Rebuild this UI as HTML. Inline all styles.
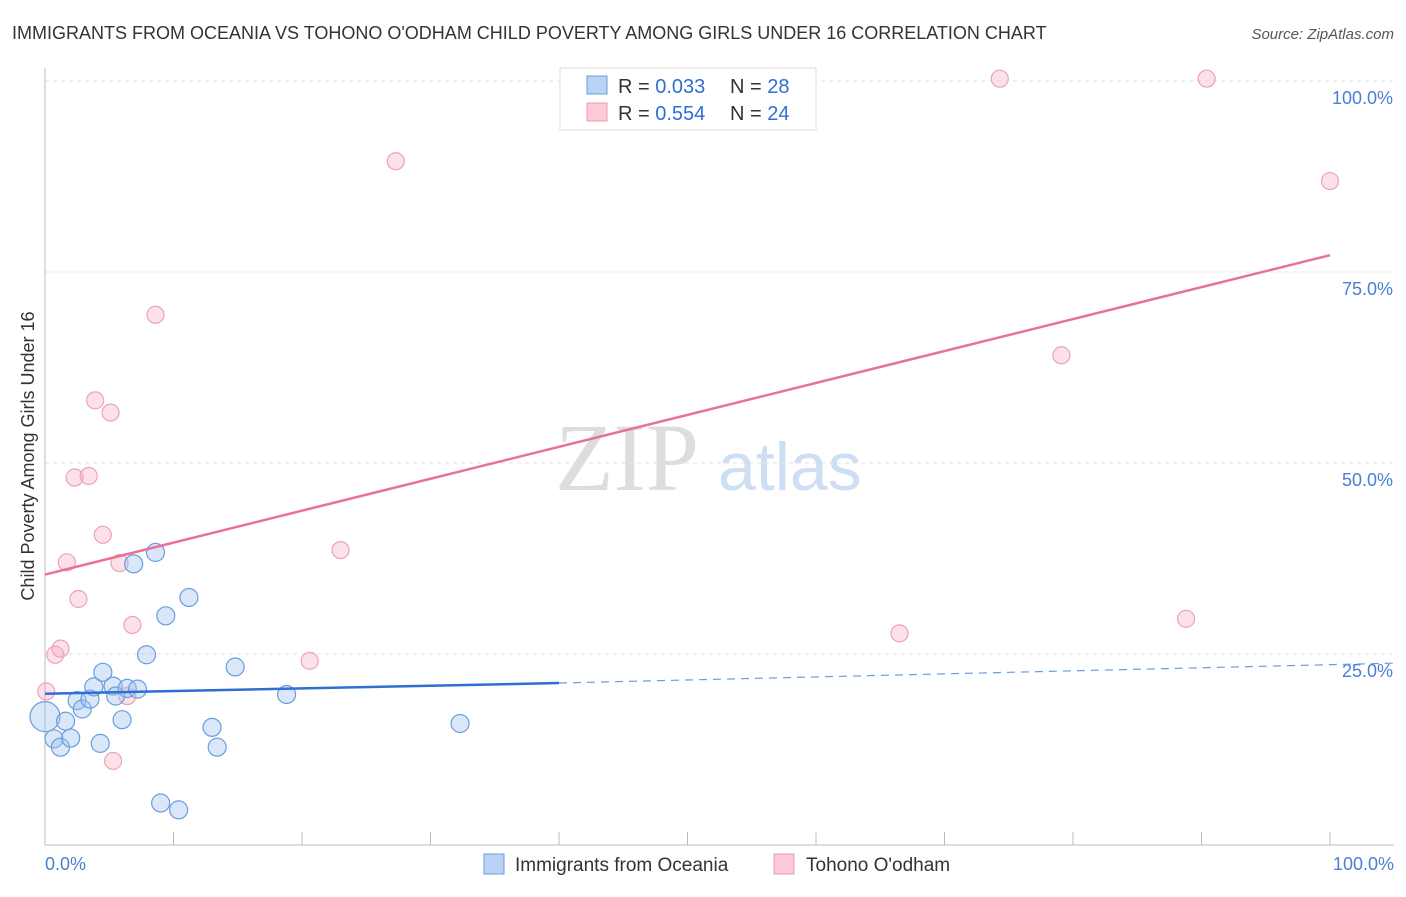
<!DOCTYPE html>
<html><head><meta charset="utf-8"><style>
body{margin:0;background:#fff;font-family:"Liberation Sans",sans-serif;}
</style></head><body>
<svg id="c" width="1406" height="892" xmlns="http://www.w3.org/2000/svg">
<text x="12" y="39" font-size="18" fill="#333">IMMIGRANTS FROM OCEANIA VS TOHONO O'ODHAM CHILD POVERTY AMONG GIRLS UNDER 16 CORRELATION CHART</text>
<text x="1394" y="39" font-size="15" fill="#555" font-style="italic" text-anchor="end">Source: ZipAtlas.com</text>
<text x="34" y="456" font-size="18" fill="#333" text-anchor="middle" transform="rotate(-90 34 456)">Child Poverty Among Girls Under 16</text>
<text x="555" y="490" font-size="96" fill="#ddd" font-family="Liberation Serif,serif">ZIP</text>
<text x="718" y="490" font-size="68" fill="#cfdff3">atlas</text>
<g id="grid"></g><g id="pts"></g><g id="lines"></g>
<g>
<rect x="560" y="68" width="256" height="62" fill="#fff" stroke="#ddd"/>
<rect x="587" y="76" width="20" height="18" fill="#b9d3f5" stroke="#6b9de0"/>
<rect x="587" y="103" width="20" height="18" fill="#fbcbd8" stroke="#ec9ab2"/>
<text x="618" y="93" font-size="20" fill="#333">R = <tspan fill="#2f6fd3">0.033</tspan></text>
<text x="730" y="93" font-size="20" fill="#333">N = <tspan fill="#2f6fd3">28</tspan></text>
<text x="618" y="120" font-size="20" fill="#333">R = <tspan fill="#2f6fd3">0.554</tspan></text>
<text x="730" y="120" font-size="20" fill="#333">N = <tspan fill="#2f6fd3">24</tspan></text>
</g>
<g>
<rect x="484" y="854" width="20" height="20" fill="#b9d3f5" stroke="#6b9de0"/>
<text x="515" y="871" font-size="19" fill="#333">Immigrants from Oceania</text>
<rect x="774" y="854" width="20" height="20" fill="#fbcbd8" stroke="#ec9ab2"/>
<text x="806" y="871" font-size="19" fill="#333">Tohono O'odham</text>
</g>
<text x="45" y="870" font-size="18" fill="#4a7fd4">0.0%</text>
<text x="1394" y="870" font-size="18" fill="#4a7fd4" text-anchor="end">100.0%</text>
</svg>
<script>
const yTicks=[25,50,75,100];
const yTickLabels=["25.0%","50.0%","75.0%","100.0%"];
const blueX=[0,0.7,1.2,1.6,2,2.5,2.9,3.5,3.8,4.3,4.5,5.3,5.5,6,6.4,6.9,7.2,7.9,8.6,9,9.4,10.4,11.2,13,13.4,14.8,18.8,32.3];
const blueY=[16.8,13.9,12.8,16.2,14,18.9,17.8,19.1,20.7,13.3,22.6,20.8,19.5,16.4,20.5,36.8,20.4,24.9,38.3,5.5,30,4.6,32.4,15.4,12.8,23.3,19.7,15.9];
const blueR=[15,9,9,9,9,9,9,9,9,9,9,9,9,9,9,9,9,9,9,9,9,9,9,9,9,9,9,9];
const pinkX=[0.1,0.8,1.2,1.7,2.3,2.6,3.4,3.9,4.5,5.1,5.8,6.4,6.8,5.3,8.6,20.6,23,27.3,66.5,74.3,79.1,88.8,90.4,100];
const pinkY=[20.1,24.9,25.7,37,48.1,32.2,48.3,58.2,40.6,56.6,36.9,19.5,28.8,11,69.4,24.1,38.6,89.5,27.7,100.3,64.1,29.6,100.3,86.9];
const blueLine=[[0,19.8],[40,21.2],[105,23.8]];
const pinkLine=[[0,35.4],[100,77.2]];
const X=v=>45+v*12.85, Y=v=>845-v*7.64;
const NS="http://www.w3.org/2000/svg";
function mk(t,a,p){const e=document.createElementNS(NS,t);for(const k in a)e.setAttribute(k,a[k]);p.appendChild(e);return e;}
const g=document.getElementById('grid');
yTicks.forEach((t,i)=>{
 const l=mk('line',{x1:45,x2:1394,y1:Y(t),y2:Y(t),stroke:'#e2e2e2','stroke-dasharray':'4,4'},g);
 
 
 const tx=mk('text',{x:1393,y:Y(t)+23,'font-size':18,fill:'#4a7fd4','text-anchor':'end'},g);
 tx.textContent=yTickLabels[i];
 
 
});
mk('line',{x1:45,x2:45,y1:68,y2:845,stroke:'#bbb'},g);
mk('line',{x1:45,x2:1394,y1:845,y2:845,stroke:'#bbb'},g);
for(let i=0;i<=10;i++){const t=mk('line',{x1:X(i*10),x2:X(i*10),y1:832,y2:845,stroke:'#bbb'},g);
 
 }
const p=document.getElementById('pts');
pinkX.forEach((x,i)=>{const c=mk('circle',{cx:X(x),cy:Y(pinkY[i]),r:8.5,fill:'rgba(246,170,192,0.35)',stroke:'#eea2b8','stroke-width':1.2},p);
 
 });
blueX.forEach((x,i)=>{const c=mk('circle',{cx:X(x),cy:Y(blueY[i]),r:blueR[i],fill:'rgba(160,196,240,0.4)',stroke:'#6a9de0','stroke-width':1.2},p);
 
 });
const L=document.getElementById('lines');
const b1=mk('line',{x1:X(blueLine[0][0]),y1:Y(blueLine[0][1]),x2:X(blueLine[1][0]),y2:Y(blueLine[1][1]),stroke:'#2f6fd3','stroke-width':2.5},L);


const b2=mk('line',{x1:X(blueLine[1][0]),y1:Y(blueLine[1][1]),x2:X(blueLine[2][0]),y2:Y(blueLine[2][1]),stroke:'#6a9de0','stroke-width':1.2,'stroke-dasharray':'8,6'},L);


const pl=mk('line',{x1:X(pinkLine[0][0]),y1:Y(pinkLine[0][1]),x2:X(pinkLine[1][0]),y2:Y(pinkLine[1][1]),stroke:'#e8709a','stroke-width':2.5},L);


</script>
</body></html>
